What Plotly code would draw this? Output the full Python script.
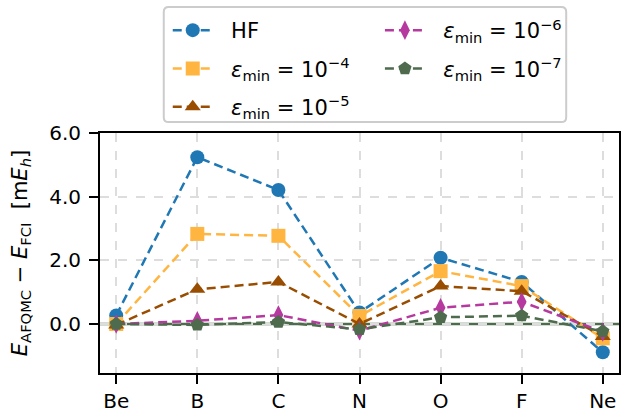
import plotly.graph_objects as go

atoms = ["Be", "B", "C", "N", "O", "F", "Ne"]
hf = [0.27, 5.24, 4.21, 0.36, 2.08, 1.32, -0.89]
e4 = [0.00, 2.83, 2.77, 0.25, 1.66, 1.19, -0.45]
e5 = [-0.03, 1.09, 1.32, 0.00, 1.19, 1.03, -0.39]
e6 = [0.00, 0.10, 0.28, -0.21, 0.51, 0.70, -0.25]
e7 = [0.00, -0.03, 0.06, -0.17, 0.21, 0.26, -0.23]

SP = "\u00a0\u00a0"
series = [
    (SP + "HF", hf, "#1f77b4", "circle", "legend"),
    (SP + "<i>ε</i><sub>min</sub> = 10<sup>−4</sup>", e4, "#ffb540", "square", "legend"),
    (SP + "<i>ε</i><sub>min</sub> = 10<sup>−5</sup>", e5, "#994d00", "triangle-up", "legend"),
    (SP + "<i>ε</i><sub>min</sub> = 10<sup>−6</sup>", e6, "#b5399e", "diamond-tall", "legend2"),
    (SP + "<i>ε</i><sub>min</sub> = 10<sup>−7</sup>", e7, "#4e6b4e", "pentagon", "legend2"),
]

# plot area in pixels
L, R, T, B = 100, 621, 133, 375
PW, PH = R - L, B - T
def px(x): return (x - L) / PW
def py(y): return (B - y) / PH

fig = go.Figure()
xs = list(range(len(atoms)))
for i, (name, vals, col, sym, leg) in enumerate(series):
    fig.add_trace(go.Scatter(
        x=xs, y=vals, name=name, mode="lines+markers",
        line=dict(color=col, width=2.5, dash="9px,5px"),
        marker=dict(symbol=sym, size=14, color=col),
        legend=leg, legendgroup="g%d" % i,
    ))

fig.add_shape(type="line", xref="paper", yref="y", x0=0, x1=1, y0=0, y1=0,
              line=dict(color="#4e6b4e", width=2.5), layer="between")

# legend frame (rounded)
x0, x1, y0, y1, r = 164, 568, 6, 122, 5
path = (f"M {px(x0+r)} {py(y0)} L {px(x1-r)} {py(y0)} Q {px(x1)} {py(y0)} {px(x1)} {py(y0+r)} "
        f"L {px(x1)} {py(y1-r)} Q {px(x1)} {py(y1)} {px(x1-r)} {py(y1)} "
        f"L {px(x0+r)} {py(y1)} Q {px(x0)} {py(y1)} {px(x0)} {py(y1-r)} "
        f"L {px(x0)} {py(y0+r)} Q {px(x0)} {py(y0)} {px(x0+r)} {py(y0)} Z")
fig.add_shape(type="path", xref="paper", yref="paper", path=path,
              line=dict(color="#cccccc", width=2), fillcolor="white", layer="above")

legfont = dict(size=21)
fig.update_layout(
    width=621, height=413,
    margin=dict(l=L, r=621 - R, t=T, b=413 - B),
    plot_bgcolor="white", paper_bgcolor="white",
    font=dict(family="DejaVu Sans", size=20, color="black"),
    showlegend=True,
    legend=dict(x=px(168), xanchor="left", y=py(9), yanchor="top",
                bgcolor="rgba(0,0,0,0)", borderwidth=0, font=legfont,
                tracegroupgap=8, itemwidth=40),
    legend2=dict(x=px(381), xanchor="left", y=py(9), yanchor="top",
                 bgcolor="rgba(0,0,0,0)", borderwidth=0, font=legfont,
                 tracegroupgap=8, itemwidth=40),
    xaxis=dict(
        range=[-0.2, 6.2], tickmode="array", tickvals=xs, ticktext=atoms,
        showline=True, linecolor="black", linewidth=2, mirror=True,
        ticks="outside", ticklen=9, tickwidth=2, tickcolor="black",
        showgrid=True, gridcolor="#dddddd", gridwidth=1.5, griddash="dash",
        zeroline=False,
    ),
    yaxis=dict(
        range=[-1.54, 6.0], tickvals=[0, 2, 4, 6], tickformat=".1f",
        showline=True, linecolor="black", linewidth=2, mirror=True,
        ticks="outside", ticklen=9, tickwidth=2, tickcolor="black",
        ticklabelstandoff=4,
        showgrid=True, gridcolor="#dddddd", gridwidth=1.5, griddash="dash",
        zeroline=False,
        title=dict(text="<i>E</i><sub>AFQMC</sub> − <i>E</i><sub>FCI</sub>  [m<i>E<sub>h</sub></i>]",
                   font=dict(size=21), standoff=16),
    ),
)

fig.write_html("out.html")
